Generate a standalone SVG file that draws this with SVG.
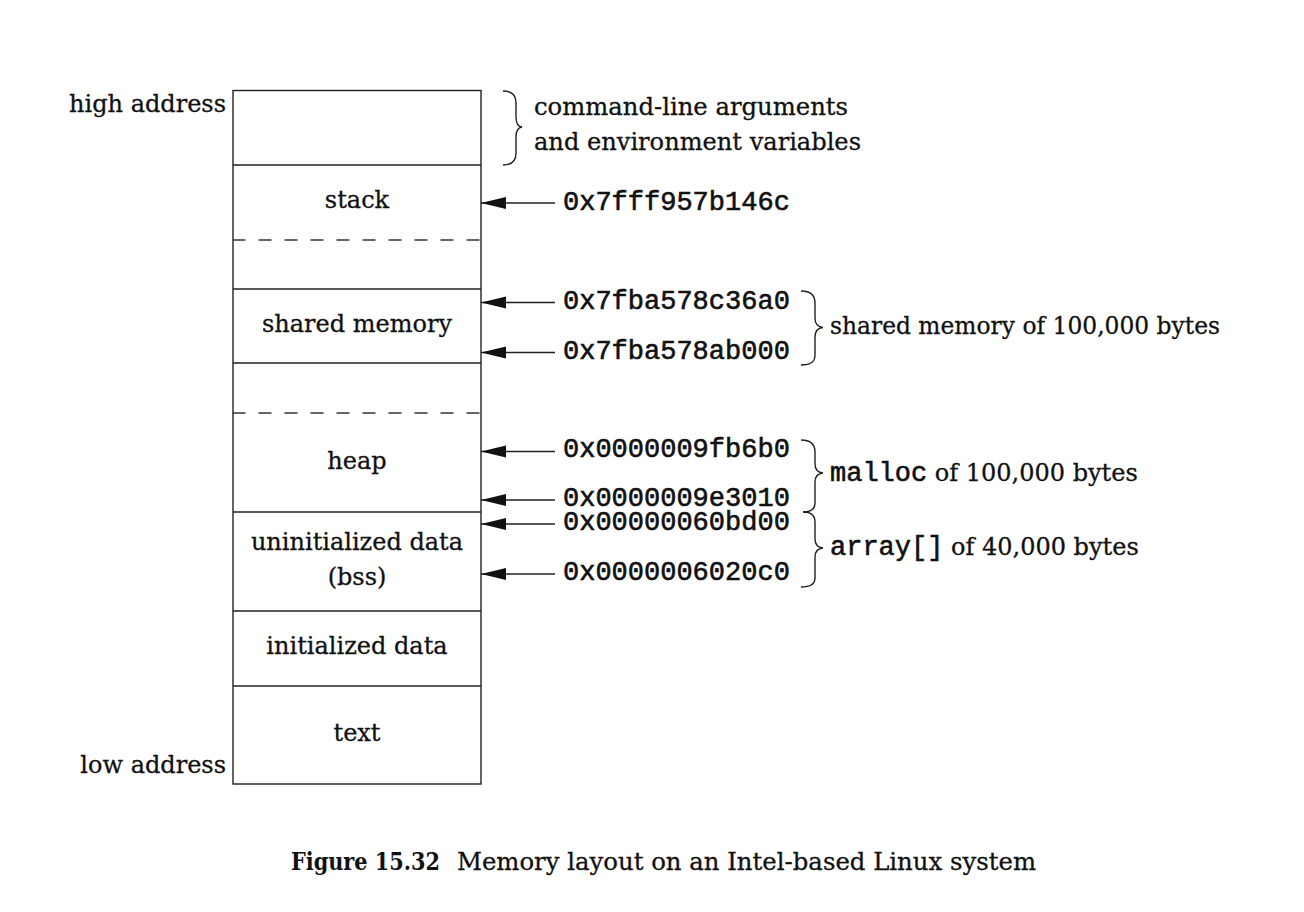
<svg xmlns="http://www.w3.org/2000/svg" width="1304" height="912" viewBox="0 0 1304 912">
<style>
  .serif { font-family: "DejaVu Serif", "Liberation Serif", serif; font-size: 24px; fill: #111; stroke: #111; stroke-width: 0.3; }
  .mono { font-family: "Liberation Mono", "DejaVu Sans Mono", monospace; font-size: 27px; fill: #111; stroke: #111; stroke-width: 0.6; }
  .mid { text-anchor: middle; }
  .end { text-anchor: end; }
  .box { fill: none; stroke: #222; stroke-width: 1.4; }
  .div { stroke: #222; stroke-width: 1.4; }
  .dash { stroke: #333; stroke-width: 1.4; stroke-dasharray: 13 13; }
  .arrow { stroke: #222; stroke-width: 1.4; fill: none; marker-end: url(#head); }
  .brace { fill: none; stroke: #222; stroke-width: 1.4; }
  .bold { font-weight: bold; stroke-width: 0; }
</style>
<defs>
  <marker id="head" markerUnits="userSpaceOnUse" markerWidth="26" markerHeight="14" refX="25" refY="6" orient="auto">
    <path d="M0,0 L25,6 L0,12 z" fill="#111"/>
  </marker>
</defs>
<rect width="1304" height="912" fill="#fff"/>

<g id="memory-column">
  <rect class="box" x="233" y="90.5" width="248" height="693.5"/>
</g>
<g id="args-segment">
  <line class="div" x1="233" y1="165" x2="481" y2="165"/>
</g>
<g id="stack-segment">
  <text class="serif mid" x="357" y="208">stack</text>
  <line class="dash" x1="232.5" y1="240" x2="481" y2="240"/>
</g>
<g id="shared-segment">
  <line class="div" x1="233" y1="289" x2="481" y2="289"/>
  <text class="serif mid" x="357" y="332">shared memory</text>
  <line class="div" x1="233" y1="363" x2="481" y2="363"/>
</g>
<g id="heap-segment">
  <line class="dash" x1="232.5" y1="413" x2="481" y2="413"/>
  <text class="serif mid" x="357" y="469">heap</text>
  <line class="div" x1="233" y1="512" x2="481" y2="512"/>
</g>
<g id="bss-segment">
  <text class="serif mid" x="357" y="550">uninitialized data</text>
  <text class="serif mid" x="357" y="585">(bss)</text>
  <line class="div" x1="233" y1="611" x2="481" y2="611"/>
</g>
<g id="data-segment">
  <text class="serif mid" x="357" y="654">initialized data</text>
  <line class="div" x1="233" y1="686" x2="481" y2="686"/>
</g>
<g id="text-segment">
  <text class="serif mid" x="357" y="741">text</text>
</g>

<g id="side-labels">
  <text class="serif end" x="226" y="112">high address</text>
  <text class="serif end" x="226" y="773">low address</text>
</g>

<g id="connectors">
  <line class="arrow" x1="555" y1="203" x2="481" y2="203"/>
  <line class="arrow" x1="555" y1="302.5" x2="481" y2="302.5"/>
  <line class="arrow" x1="555" y1="352.5" x2="481" y2="352.5"/>
  <line class="arrow" x1="555" y1="451.5" x2="481" y2="451.5"/>
  <line class="arrow" x1="555" y1="500" x2="481" y2="500"/>
  <line class="arrow" x1="555" y1="524" x2="481" y2="524"/>
  <line class="arrow" x1="555" y1="574" x2="481" y2="574"/>
</g>

<g id="addresses">
  <text class="mono" x="563" y="210">0x7fff957b146c</text>
  <text class="mono" x="563" y="309">0x7fba578c36a0</text>
  <text class="mono" x="563" y="359">0x7fba578ab000</text>
  <text class="mono" x="563" y="457">0x0000009fb6b0</text>
  <text class="mono" x="563" y="506">0x0000009e3010</text>
  <text class="mono" x="563" y="530">0x00000060bd00</text>
  <text class="mono" x="563" y="580">0x0000006020c0</text>
</g>

<g id="braces">
  <path class="brace" d="M503,91 C512,91 516,95 516,103 L516,117 C516,123 518,126.5 522,127 C518,127.5 516,131 516,137 L516,153 C516,161 512,165 503,165"/>
  <path class="brace" d="M801,291 C811,291 815,295 815,303 L815,318 C815,324 818,327 823,327.5 C818,328 815,331 815,337 L815,355 C815,362 811,365 801,365"/>
  <path class="brace" d="M801,440 C811,440 815,444 815,452 L815,464 C815,470 818,472.5 823,473 C818,473.5 815,476 815,482 L815,503 C815,509 811,512 803,512"/>
  <path class="brace" d="M803,512 C811,512 815,515 815,522 L815,539 C815,545 818,547.5 823,548 C818,548.5 815,551 815,557 L815,578 C815,584 811,587 801,587"/>
</g>

<g id="brace-labels">
  <text class="serif" x="534" y="115" textLength="314" lengthAdjust="spacingAndGlyphs">command-line arguments</text>
  <text class="serif" x="534" y="150" textLength="327" lengthAdjust="spacingAndGlyphs">and environment variables</text>
  <text class="serif" x="830" y="334" textLength="390" lengthAdjust="spacingAndGlyphs">shared memory of 100,000 bytes</text>
  <text x="830" y="481"><tspan class="mono">malloc</tspan><tspan class="serif"> of 100,000 bytes</tspan></text>
  <text x="830" y="555"><tspan class="mono">array[]</tspan><tspan class="serif"> of 40,000 bytes</tspan></text>
</g>

<g id="caption">
  <text class="serif bold" x="291" y="870" textLength="149" lengthAdjust="spacingAndGlyphs">Figure 15.32</text>
  <text class="serif" x="457" y="870" textLength="579" lengthAdjust="spacingAndGlyphs">Memory layout on an Intel-based Linux system</text>
</g>
</svg>
